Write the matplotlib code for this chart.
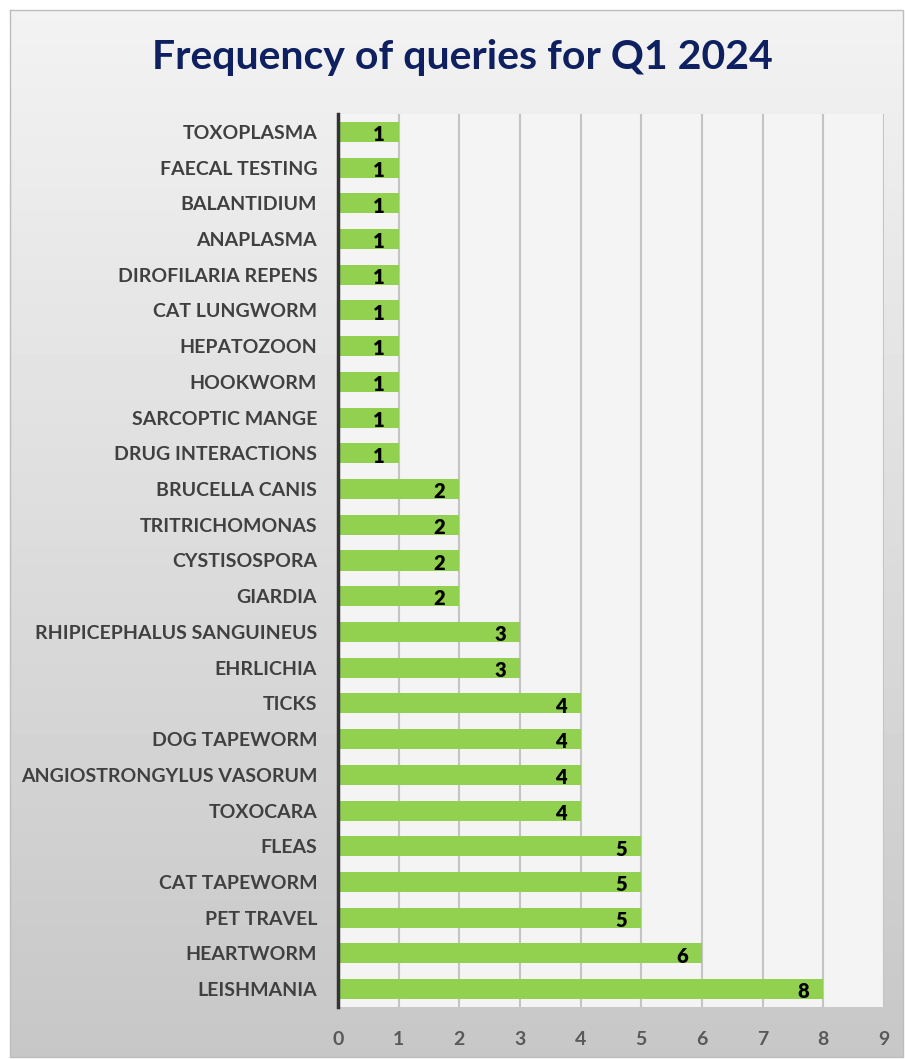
import matplotlib.pyplot as plt
import numpy as np

categories = [
    "TOXOPLASMA", "FAECAL TESTING", "BALANTIDIUM", "ANAPLASMA",
    "DIROFILARIA REPENS", "CAT LUNGWORM", "HEPATOZOON", "HOOKWORM",
    "SARCOPTIC MANGE", "DRUG INTERACTIONS", "BRUCELLA CANIS",
    "TRITRICHOMONAS", "CYSTISOSPORA", "GIARDIA",
    "RHIPICEPHALUS SANGUINEUS", "EHRLICHIA", "TICKS", "DOG TAPEWORM",
    "ANGIOSTRONGYLUS VASORUM", "TOXOCARA", "FLEAS", "CAT TAPEWORM",
    "PET TRAVEL", "HEARTWORM", "LEISHMANIA",
]
counts = [1, 1, 1, 1, 1, 1, 1, 1, 1, 1, 2, 2, 2, 2, 3, 3, 4, 4, 4, 4, 5, 5, 5, 6, 8]
x_ticks = list(range(10))

plt.rcParams['font.family'] = ['Lato', 'DejaVu Sans']

fig = plt.figure(figsize=(9.05, 10.59), dpi=100)
fig.patch.set_facecolor('white')

# grey gradient background of the chart frame
bg = fig.add_axes([0, 0, 1, 1], zorder=-10)
grad = np.linspace(0.95, 0.78, 256).reshape(-1, 1)
bg.imshow(grad, cmap='gray', vmin=0, vmax=1, aspect='auto',
          extent=[10, 903, 1057, 10])
bg.set_xlim(0, 905)
bg.set_ylim(1059, 0)
bg.plot([10, 903, 903, 10, 10], [10, 10, 1057, 1057, 10], color='#bdbdbd', lw=1)
bg.axis('off')

ax = fig.add_axes([338 / 905, 1 - 1007 / 1059, (884 - 338) / 905, (1007 - 114) / 1059])
ax.set_facecolor('#f4f4f4')

y = np.arange(len(categories))
ax.barh(y, counts, height=0.56, color='#92d050', zorder=3)
for yi, c in zip(y, counts):
    ax.annotate(str(c), (c, yi), xytext=(-10, -2), textcoords='offset points',
                ha='right', va='center', fontsize=14.5, fontweight='heavy',
                color='black', zorder=4)

ax.set_xlim(0, 9)
ax.set_ylim(24.5, -0.5)
ax.set_xticks(x_ticks)
ax.set_xticklabels([str(t) for t in x_ticks], fontsize=14, fontweight='bold', color='#595959')
ax.set_yticks(y)
ax.set_yticklabels(categories, fontsize=14, fontweight='bold', color='#404040')
ax.tick_params(axis='y', length=0, pad=15)
ax.tick_params(axis='x', length=0, pad=17)
ax.grid(axis='x', color='#c4c4c4', lw=1.5, zorder=0)
for s in ['top', 'right', 'bottom']:
    ax.spines[s].set_visible(False)
ax.spines['left'].set_color('#333333')
ax.spines['left'].set_linewidth(2.5)
ax.spines['left'].set_zorder(5)

fig.text(462 / 905, 1 - 58 / 1059, "Frequency of queries for Q1 2024", ha='center', va='center',
         fontsize=29.5, fontweight='bold', color='#0e2060')

fig.savefig('out.png', dpi=100)
